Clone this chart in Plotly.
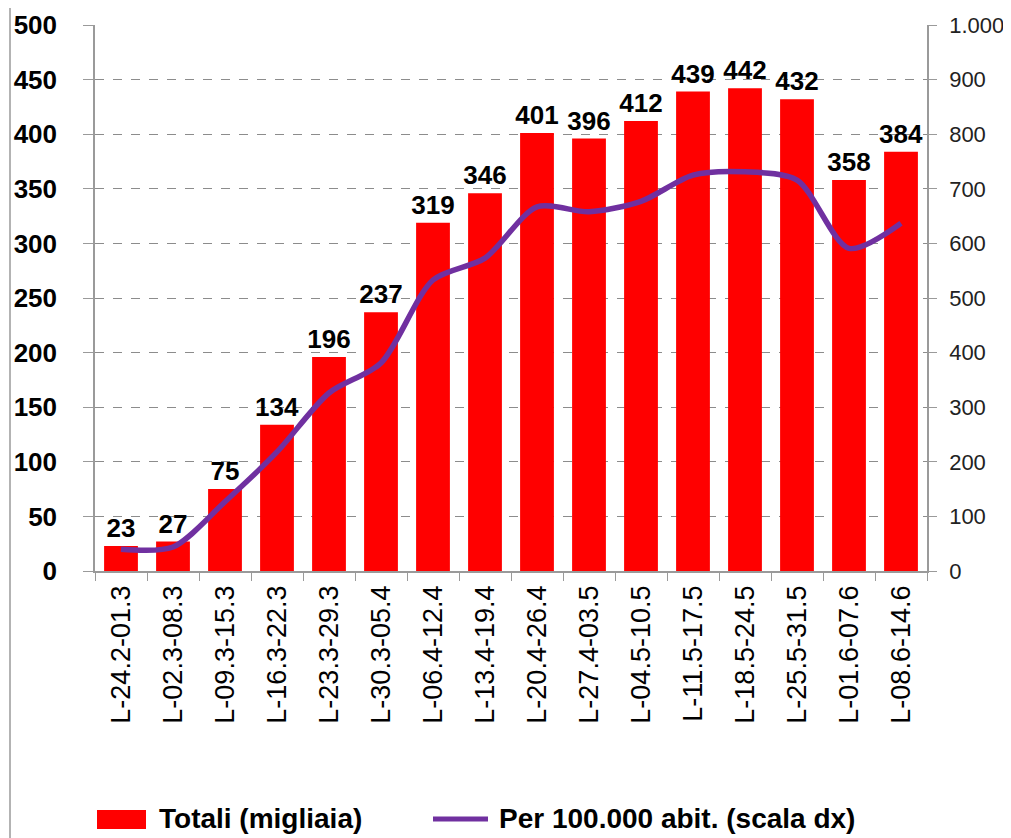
import plotly.graph_objects as go

# weekly periods
periods = [
    "L-24.2-01.3", "L-02.3-08.3", "L-09.3-15.3", "L-16.3-22.3",
    "L-23.3-29.3", "L-30.3-05.4", "L-06.4-12.4", "L-13.4-19.4",
    "L-20.4-26.4", "L-27.4-03.5", "L-04.5-10.5", "L-11.5-17.5",
    "L-18.5-24.5", "L-25.5-31.5", "L-01.6-07.6", "L-08.6-14.6",
]
# totals (thousands) - left axis
totali = [23, 27, 75, 134, 196, 237, 319, 346, 401, 396, 412, 439, 442, 432, 358, 384]
# per 100,000 inhabitants - right axis
per_100k = [40, 44, 127, 218, 326, 381, 533, 573, 667, 658, 677, 725, 731, 716, 591, 637]

left_ticks = list(range(0, 501, 50))
right_ticks = list(range(0, 1001, 100))
right_text = ["1.000" if v == 1000 else str(v) for v in right_ticks]

BAR_NAME = "Totali (migliaia)"
LINE_NAME = "Per 100.000 abit. (scala dx)"
BAR_COLOR = "#FF0000"
LINE_COLOR = "#7030A0"

FONT = "Liberation Sans, Arial, sans-serif"
OFF = 8  # default body margin of the html page
# figure fills the window exactly from the body offset
W, H = 1011 - OFF, 838 - OFF
# plot area on screen: x 95..927, y 25..571
L, T = 95 - OFF, 25 - OFF
R = W - (927 - OFF)
B = H - (571 - OFF)
plot_w = W - L - R
plot_h = H - T - B


def px_x(px):
    """screen pixel x -> paper x"""
    return (px - OFF - L) / plot_w


def px_y(py):
    """screen pixel y (from top) -> paper y"""
    return (H - B - (py - OFF)) / plot_h


fig = go.Figure()

fig.add_trace(go.Bar(
    x=periods,
    y=totali,
    name=BAR_NAME,
    marker=dict(color=BAR_COLOR, line=dict(width=0)),
    text=totali,
    textposition="outside",
    constraintext="none",
    textfont=dict(family=FONT, size=26, color="black", weight="bold"),
    cliponaxis=False,
    showlegend=False,
    yaxis="y",
))

fig.add_trace(go.Scatter(
    x=periods,
    y=per_100k,
    name=LINE_NAME,
    mode="lines",
    line=dict(color=LINE_COLOR, width=5.5, shape="spline", smoothing=0.8),
    showlegend=False,
    yaxis="y2",
))

# legend drawn by hand (wide swatches like the original)
legend_y = 818
shapes = [
    # outer chart border on the left edge
    dict(type="line", xref="paper", yref="paper",
         x0=px_x(10), x1=px_x(10), y0=px_y(840), y1=px_y(-2),
         line=dict(color="#9a9a9a", width=1.5)),
    dict(type="rect", xref="paper", yref="paper",
         x0=px_x(97), x1=px_x(146), y0=px_y(829), y1=px_y(810),
         fillcolor=BAR_COLOR, line=dict(width=0)),
    dict(type="line", xref="paper", yref="paper",
         x0=px_x(433), x1=px_x(488), y0=px_y(legend_y + 1), y1=px_y(legend_y + 1),
         line=dict(color=LINE_COLOR, width=5)),
]
annotations = [
    dict(text=BAR_NAME, xref="paper", yref="paper",
         x=px_x(157), y=px_y(legend_y), xanchor="left", yanchor="middle",
         showarrow=False,
         font=dict(family=FONT, size=28, color="black", weight="bold")),
    dict(text=LINE_NAME, xref="paper", yref="paper",
         x=px_x(497), y=px_y(legend_y), xanchor="left", yanchor="middle",
         showarrow=False,
         font=dict(family=FONT, size=28, color="black", weight="bold")),
]

fig.update_layout(
    width=W,
    height=H,
    margin=dict(l=L, r=R, t=T, b=B, autoexpand=False),
    paper_bgcolor="white",
    plot_bgcolor="white",
    bargap=0.35,
    font=dict(family=FONT, color="black"),
    showlegend=False,
    xaxis=dict(
        type="category",
        tickangle=-90,
        tickfont=dict(family=FONT, size=27, color="black"),
        showline=True,
        linecolor="#9a9a9a",
        linewidth=1.5,
        ticks="outside",
        tickcolor="#9a9a9a",
        ticklen=8,
        tickson="boundaries",
        ticklabelstandoff=2,
        showgrid=False,
    ),
    yaxis=dict(
        range=[0, 500],
        tickvals=left_ticks,
        tickfont=dict(family=FONT, size=26, color="black", weight="bold"),
        showline=True,
        linecolor="#9a9a9a",
        linewidth=1.5,
        ticks="outside",
        tickcolor="#9a9a9a",
        ticklen=10,
        ticklabelstandoff=21,
        showgrid=True,
        gridcolor="#8c8c8c",
        griddash="dash",
        gridwidth=1,
        zeroline=False,
    ),
    yaxis2=dict(
        range=[0, 1000],
        overlaying="y",
        side="right",
        tickvals=right_ticks,
        ticktext=right_text,
        tickfont=dict(family=FONT, size=22, color="#222222"),
        showline=True,
        linecolor="#9a9a9a",
        linewidth=1.5,
        ticks="outside",
        tickcolor="#9a9a9a",
        ticklen=8,
        ticklabelstandoff=8,
        showgrid=False,
        zeroline=False,
    ),
    shapes=shapes,
    annotations=annotations,
)

fig.write_html("out.html")
